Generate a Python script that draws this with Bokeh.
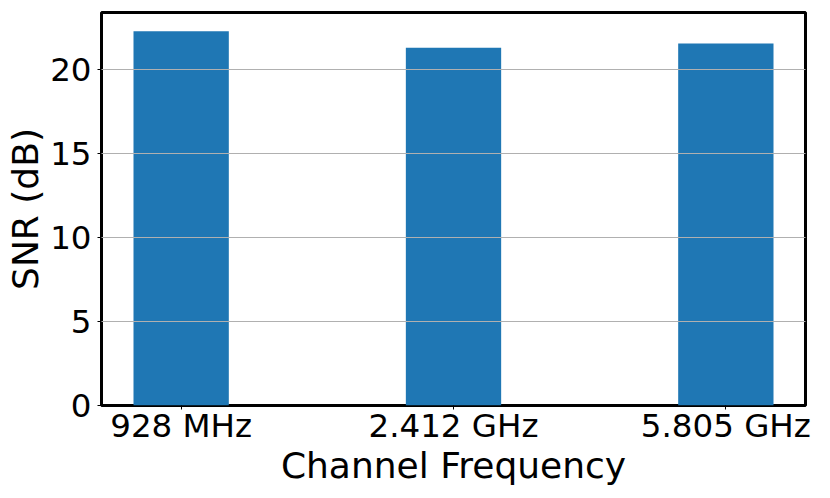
from bokeh.plotting import figure
from bokeh.models import Range1d, FixedTicker, ColumnDataSource
from bokeh.embed import file_html
from bokeh.resources import INLINE

categories = ["928 MHz", "2.412 GHz", "5.805 GHz"]
positions = [0, 1, 2]
snr_db = [22.28, 21.29, 21.55]
y_ticks = [0, 5, 10, 15, 20]

bar_width = 0.35
FONT = "DejaVu Sans"

src = ColumnDataSource(dict(x=positions, top=snr_db, name=categories))

p = figure(output_backend="svg", toolbar_location=None,
           frame_width=704, frame_height=393,
           min_border_left=101, min_border_right=10,
           min_border_top=12, min_border_bottom=77,
           x_range=Range1d(-0.2925, 2.2925),
           y_range=Range1d(0, max(snr_db) * 1.05))

p.vbar(x="x", top="top", width=bar_width, source=src,
       fill_color="#1f77b4", line_color=None)

p.outline_line_color = "black"
p.outline_line_width = 3
p.outline_line_alpha = 1

p.xgrid.visible = False
p.ygrid.grid_line_color = "#b0b0b0"
p.ygrid.grid_line_width = 1
p.ygrid.level = "overlay"

p.xaxis.ticker = FixedTicker(ticks=positions)
p.xaxis.major_label_overrides = {i: c for i, c in zip(positions, categories)}
p.yaxis.ticker = FixedTicker(ticks=y_ticks)

for ax in (p.xaxis[0], p.yaxis[0]):
    ax.axis_line_color = None
    ax.major_tick_in = 0
    ax.major_tick_out = 4
    ax.major_tick_line_color = "black"
    ax.major_tick_line_width = 1
    ax.minor_tick_line_color = None
    ax.major_label_text_font = FONT
    ax.major_label_text_font_size = "32.5px"
    ax.major_label_text_color = "black"
    ax.axis_label_text_font = FONT
    ax.axis_label_text_font_size = "36px"
    ax.axis_label_text_font_style = "normal"
    ax.axis_label_text_color = "black"

p.xaxis.axis_label = "Channel Frequency"
p.yaxis.axis_label = "SNR (dB)"
p.xaxis.major_label_standoff = -3
p.yaxis.major_label_standoff = 6
p.xaxis.axis_label_standoff = -3
p.yaxis.axis_label_standoff = 1

open("out.html", "w").write(file_html(p, INLINE))
